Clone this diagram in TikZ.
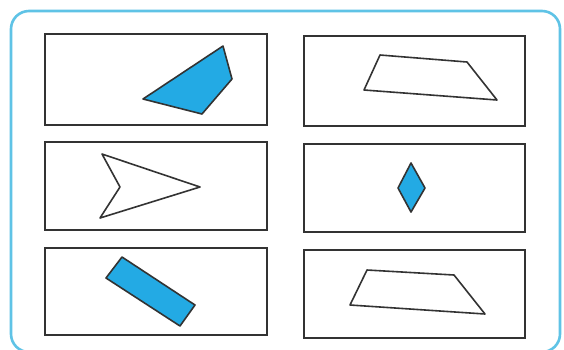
\documentclass[tikz,border=0pt]{standalone}
\begin{document}
\begin{tikzpicture}[x=1pt,y=-1pt,
  frame/.style={draw=framecol,line width=2.6pt,rounded corners=18pt},
  panel/.style={draw=black!80,line width=2pt},
  shapeline/.style={draw=black!80,line width=1.6pt,line join=round},
  bluefill/.style={shapeline,fill=shapeblue}]
\definecolor{framecol}{RGB}{95,195,230}
\definecolor{shapeblue}{RGB}{35,170,228}
\useasboundingbox (0,0) rectangle (564,349);
\fill[white] (0,0) rectangle (564,349);
\draw[frame] (11,11) rectangle (560,352);
% panels
\draw[panel] (45,34) rectangle (267,125);
\draw[panel] (45,142) rectangle (267,230);
\draw[panel] (45,248) rectangle (267,335);
\draw[panel] (304,36) rectangle (525,126);
\draw[panel] (304,144) rectangle (525,232);
\draw[panel] (304,250) rectangle (525,338);
% blue quadrilateral
\draw[bluefill] (143,99) -- (223,46) -- (232,79) -- (202,114) -- cycle;
% arrow head shape
\draw[shapeline] (102,154) -- (200,187) -- (100,218) -- (120,187) -- cycle;
% blue rectangle
\draw[bluefill] (122,257) -- (195,305) -- (180,326) -- (106,278) -- cycle;
% top-right trapezoid
\draw[shapeline] (380,55) -- (467,62) -- (497,100) -- (364,90) -- cycle;
% diamond
\draw[bluefill] (411,163) -- (425,188) -- (411,212) -- (398,188) -- cycle;
% bottom-right trapezoid
\draw[shapeline] (367,270) -- (454,275) -- (485,314) -- (350,305) -- cycle;
\end{tikzpicture}
\end{document}
